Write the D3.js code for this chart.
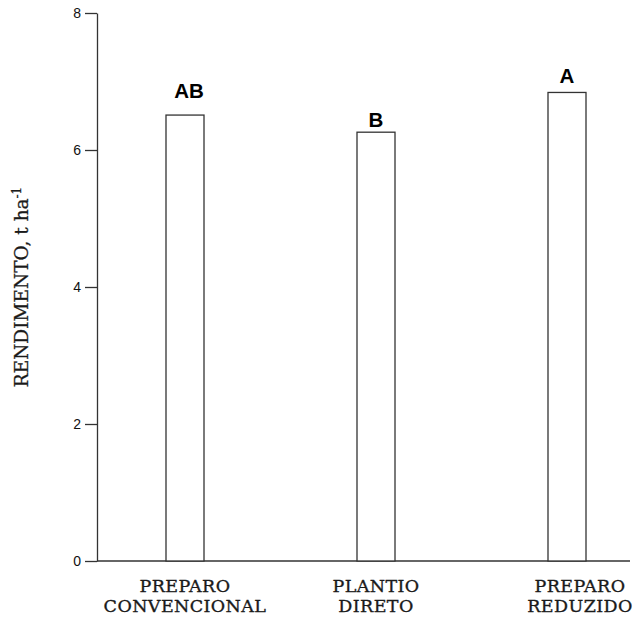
<!DOCTYPE html>
<html>
<head>
<meta charset="utf-8">
<script src="https://cdn.jsdelivr.net/npm/d3@7"></script>
<style>
  body { margin: 0; background: #fff; }
  svg { display: block; }
</style>
</head>
<body>
<svg id="chart" width="634" height="617"></svg>
<script>
// dados
const categories = [["PREPARO", "CONVENCIONAL"], ["PLANTIO", "DIRETO"], ["PREPARO", "REDUZIDO"]];
const rendimento = [6.51, 6.26, 6.84];
const letters = ["AB", "B", "A"];
const letterAt = [6.76, 6.34, 6.98]; // altura (t/ha) da base da letra
const yTicks = [0, 2, 4, 6, 8];

const svg = d3.select("#chart");
const ink = "#333";

const y = d3.scaleLinear().domain([0, 8]).range([561, 13]);
const x = d3.scalePoint().domain(d3.range(categories.length)).range([185, 567]);
const barW = 38;

// eixo y
const yAxis = svg.append("g")
  .attr("transform", "translate(97,0)")
  .call(d3.axisLeft(y).tickValues(yTicks).tickSize(12).tickPadding(4).tickSizeOuter(0));
yAxis.select(".domain").attr("stroke", ink).attr("stroke-width", 1.3);
yAxis.selectAll(".tick line").attr("stroke", ink).attr("stroke-width", 1.3);
yAxis.selectAll(".tick text")
  .attr("font-family", "Liberation Sans, Arial, sans-serif")
  .attr("font-size", 14)
  .attr("fill", "#111");

// linha de base
svg.append("line")
  .attr("x1", 97).attr("x2", 630)
  .attr("y1", y(0)).attr("y2", y(0))
  .attr("stroke", ink).attr("stroke-width", 1.6);

// barras
svg.selectAll("rect.bar")
  .data(rendimento)
  .enter().append("rect")
  .attr("class", "bar")
  .attr("x", (d, i) => x(i) - barW / 2)
  .attr("y", d => y(d))
  .attr("width", barW)
  .attr("height", d => y(0) - y(d))
  .attr("fill", "#fff")
  .attr("stroke", ink)
  .attr("stroke-width", 1.3);

// letras de comparação
svg.selectAll("text.letter")
  .data(letters)
  .enter().append("text")
  .attr("class", "letter")
  .attr("x", (d, i) => x(i) + (i === 0 ? 4 : 0))
  .attr("y", (d, i) => y(letterAt[i]))
  .attr("text-anchor", "middle")
  .attr("font-family", "Liberation Sans, Arial, sans-serif")
  .attr("font-weight", "bold")
  .attr("font-size", 20.5)
  .attr("fill", "#000")
  .text(d => d);

// rótulos das categorias
const cat = svg.selectAll("text.cat")
  .data(categories)
  .enter().append("text")
  .attr("class", "cat")
  .attr("x", (d, i) => x(i) + (i === categories.length - 1 ? 13 : 0))
  .attr("y", 592)
  .attr("text-anchor", "middle")
  .attr("font-family", "DejaVu Serif, serif")
  .attr("font-size", 17.5)
  .attr("letter-spacing", 0.4)
  .attr("fill", "#1a1a1a")
  .attr("stroke", "#1a1a1a")
  .attr("stroke-width", 0.35);
cat.selectAll("tspan")
  .data(d => d)
  .enter().append("tspan")
  .attr("x", function () { return d3.select(this.parentNode).attr("x"); })
  .attr("dy", (d, i) => i === 0 ? 0 : 20)
  .text(d => d);

// título do eixo y
const yl = svg.append("text")
  .attr("transform", `translate(28,${(y(0) + y(8)) / 2}) rotate(-90)`)
  .attr("text-anchor", "middle")
  .attr("font-family", "DejaVu Serif, serif")
  .attr("font-size", 18.5)
  .attr("fill", "#1a1a1a")
  .attr("stroke", "#1a1a1a")
  .attr("stroke-width", 0.3);
yl.append("tspan").text("RENDIMENTO, t ha");
yl.append("tspan").attr("dy", -7).attr("font-size", 12).text("-1");
</script>
</body>
</html>
